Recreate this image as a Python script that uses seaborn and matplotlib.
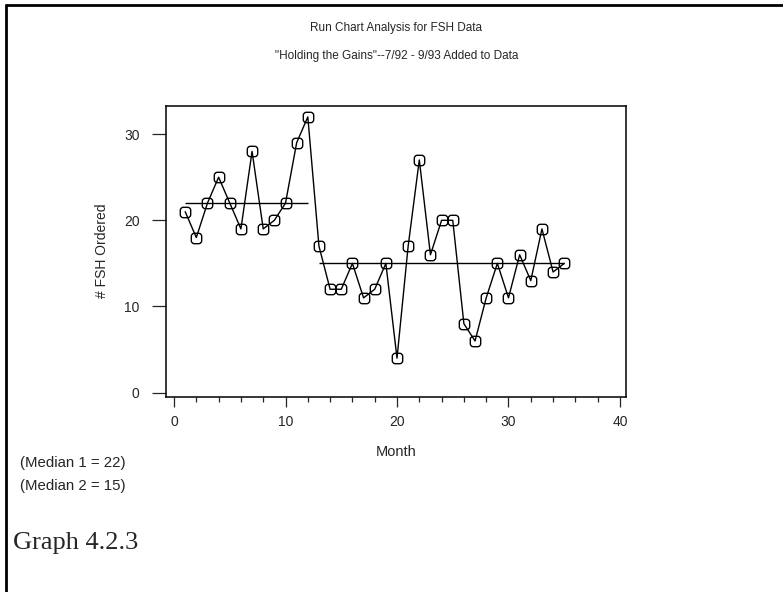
import numpy as np
import pandas as pd
import seaborn as sns
import matplotlib.pyplot as plt
from matplotlib.lines import Line2D
from matplotlib.patches import BoxStyle
from matplotlib.ticker import MultipleLocator

# FSH orders per month
months = list(range(1, 36))
fsh = [21, 18, 22, 25, 22, 19, 28, 19, 20, 22, 29, 32,
       17, 12, 12, 15, 11, 12, 15, 4, 17, 27, 16, 20, 20, 8,
       6, 11, 15, 11, 16, 13, 19, 14, 15]

# two median segments: (value, first month, last month)
median_vals = [22, 15]
median_start = [1, 13]
median_end = [12, 35]

title_lines = ["Run Chart Analysis for FSH Data",
               '"Holding the Gains"--7/92 - 9/93 Added to Data']

sns.set_style("ticks")
plt.rcParams['font.family'] = ['Liberation Sans', 'DejaVu Sans']

df = pd.DataFrame({"Month": months, "FSH": fsh})

# rounded square marker
rsq = BoxStyle.Round(pad=0, rounding_size=0.3)(-0.5, -0.5, 1.0, 1.0, 1.0)

fig = plt.figure(figsize=(7.83, 5.92), dpi=100)
ax = fig.add_axes([0.212, 0.330, 0.5875, 0.4915])

sns.lineplot(data=df, x="Month", y="FSH", ax=ax, color="black", linewidth=1.0,
             marker=rsq, markersize=7.5, markerfacecolor="none",
             markeredgecolor="black", markeredgewidth=1.0)

for m, s, e in zip(median_vals, median_start, median_end):
    ax.hlines(m, s, e, color="black", linewidth=1.0)

ax.set_xlim(-0.72, 40.54)
ax.set_ylim(-0.46, 33.3)
ax.set_xticks([0, 10, 20, 30, 40])
ax.set_yticks([0, 10, 20, 30])
ax.xaxis.set_minor_locator(MultipleLocator(2))
ax.tick_params(axis="x", which="major", length=7, width=0.9, pad=6, labelsize=10)
ax.tick_params(axis="x", which="minor", length=3.5, width=0.9)
ax.tick_params(axis="y", which="major", length=10, width=0.9, pad=9, labelsize=10)
for sp in ax.spines.values():
    sp.set_visible(True)
    sp.set_linewidth(1.1)
    sp.set_color("black")

ax.set_xlabel("Month", fontsize=10.5, labelpad=12)
ax.set_ylabel("# FSH Ordered", fontsize=10, labelpad=11)

fig.text(0.506, 0.953, title_lines[0], ha="center", va="center", fontsize=8.5)
fig.text(0.506, 0.906, title_lines[1], ha="center", va="center", fontsize=8.5)

fig.text(0.026, 0.2175, "(Median 1 = 22)", ha="left", va="center", fontsize=10.8)
fig.text(0.026, 0.1785, "(Median 2 = 15)", ha="left", va="center", fontsize=10.8)
fig.text(0.016, 0.082, "Graph 4.2.3", ha="left", va="center", fontsize=19,
         family=["Liberation Serif", "DejaVu Serif"])

# page frame (top and left)
fig.add_artist(Line2D([0.0077, 1.0], [0.9916, 0.9916], transform=fig.transFigure,
                      color="black", linewidth=2))
fig.add_artist(Line2D([0.0077, 0.0077], [0.0, 0.9916], transform=fig.transFigure,
                      color="black", linewidth=2))

fig.savefig("out.png", dpi=100)
